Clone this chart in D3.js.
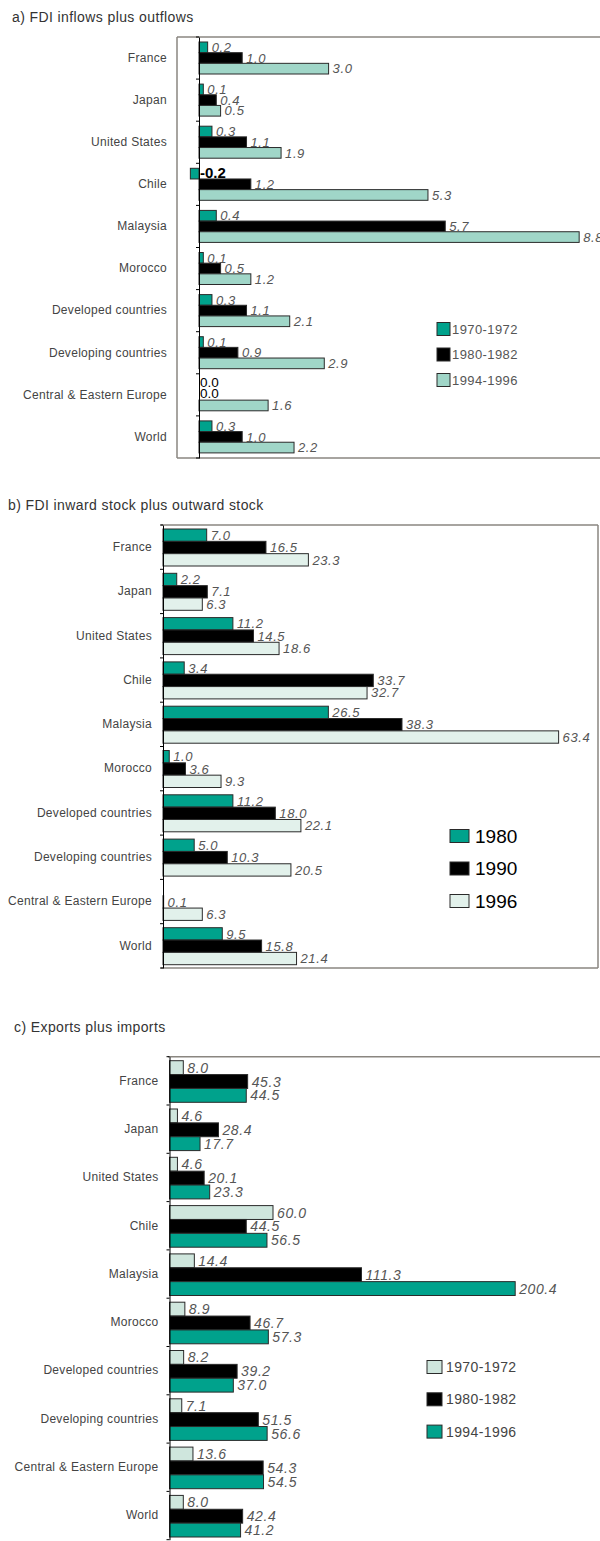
<!DOCTYPE html>
<html>
<head>
<meta charset="utf-8">
<script src="https://cdn.jsdelivr.net/npm/d3@7"></script>
<style>
  body { margin: 0; background: #fff; }
  svg { display: block; }
</style>
</head>
<body>
<div id="okvir"></div>
<script>
// 1. Podaci

const kategorije = [
  "France", "Japan", "United States", "Chile", "Malaysia", "Morocco",
  "Developed countries", "Developing countries", "Central & Eastern Europe", "World",
]

// a) FDI inflows plus outflows
const tokoviSerije = ["1970-1972", "1980-1982", "1994-1996"]
const tokovi7072 = [0.2, 0.1, 0.3, -0.2, 0.4, 0.1, 0.3, 0.1, 0.0, 0.3]
const tokovi8082 = [1.0, 0.4, 1.1, 1.2, 5.7, 0.5, 1.1, 0.9, 0.0, 1.0]
const tokovi9496 = [3.0, 0.5, 1.9, 5.3, 8.8, 1.2, 2.1, 2.9, 1.6, 2.2]

// b) FDI inward stock plus outward stock
const stokSerije = ["1980", "1990", "1996"]
const stok1980 = [7.0, 2.2, 11.2, 3.4, 26.5, 1.0, 11.2, 5.0, null, 9.5]
const stok1990 = [16.5, 7.1, 14.5, 33.7, 38.3, 3.6, 18.0, 10.3, 0.1, 15.8]
const stok1996 = [23.3, 6.3, 18.6, 32.7, 63.4, 9.3, 22.1, 20.5, 6.3, 21.4]

// c) Exports plus imports
const trgovinaSerije = ["1970-1972", "1980-1982", "1994-1996"]
const trgovina7072 = [8.0, 4.6, 4.6, 60.0, 14.4, 8.9, 8.2, 7.1, 13.6, 8.0]
const trgovina8082 = [45.3, 28.4, 20.1, 44.5, 111.3, 46.7, 39.2, 51.5, 54.3, 42.4]
const trgovina9496 = [44.5, 17.7, 23.3, 56.5, 200.4, 57.3, 37.0, 56.6, 54.5, 41.2]

// 2. Povrsina

const font = "'Liberation Sans', Arial, sans-serif"
const okvir = d3.select("#okvir")
  .append("svg")
    .attr("width", 600)
    .attr("height", 1541)
    .style("font-family", font)

const tirkiz = "#00a28c"

// 3. Crtanje jednog panela
function crtajPanel(p) {
  const g = okvir.append("g")

  g.append("text")
      .attr("x", p.naslovX)
      .attr("y", p.naslovY)
      .attr("font-size", 14)
      .attr("letter-spacing", 0.4)
      .attr("fill", "#333")
      .text(p.naslov)

  const y = d3.scaleBand()
    .domain(kategorije)
    .range([p.top, p.bottom])

  const ySerija = d3.scaleBand()
    .domain(p.serije)
    .range(p.unutra)

  const x = d3.scaleLinear()
    .domain([0, 1])
    .range([p.nula, p.nula + p.pxPoJedinici])

  // okvir
  g.selectAll(".okvir-linija")
    .data(p.okvir)
    .join("line")
      .attr("x1", d => d[0])
      .attr("y1", d => d[1])
      .attr("x2", d => d[2])
      .attr("y2", d => d[3])
      .attr("stroke", "#8a8680")
      .attr("stroke-width", 1.5)

  const redovi = kategorije.map((k, i) => ({
    kategorija: k,
    vrijednosti: p.serije.map((s, j) => ({ serija: s, v: p.vrijednosti[j][i] })),
  }))

  const grupe = g.selectAll(".grupa")
    .data(redovi)
    .join("g")
      .attr("class", "grupa")
      .attr("transform", d => `translate(0,${y(d.kategorija)})`)

  grupe.selectAll("rect")
    .data(d => d.vrijednosti.filter(v => v.v !== null && v.v !== 0))
    .join("rect")
      .attr("x", d => x(Math.min(0, d.v)))
      .attr("y", d => ySerija(d.serija))
      .attr("width", d => Math.abs(x(d.v) - x(0)))
      .attr("height", ySerija.bandwidth())
      .attr("fill", d => p.boje[p.serije.indexOf(d.serija)])
      .attr("stroke", "#2a2a2a")
      .attr("stroke-width", 1)

  // oznake vrijednosti; nule i negativne crne, uspravne
  grupe.selectAll("text")
    .data(d => d.vrijednosti.filter(v => v.v !== null))
    .join("text")
      .attr("x", d => d.v > 0 ? x(d.v) + 4 : x(0) + 1)
      .attr("y", d => ySerija(d.serija) + ySerija.bandwidth() / 2 + (d.v > 0 ? 0 : -1.5))
      .attr("dy", "0.36em")
      .attr("font-size", d => d.v > 0 ? p.vrFont : d.v < 0 ? 15 : 13.5)
      .attr("font-style", d => d.v > 0 ? "italic" : "normal")
      .attr("font-weight", d => d.v < 0 ? "bold" : "normal")
      .attr("letter-spacing", d => d.v > 0 ? 0.6 : 0)
      .attr("fill", d => d.v > 0 ? "#555" : "#000")
      .text(d => d.v.toFixed(1))

  // os s kategorijama
  const yOs = d3.axisLeft(y)
    .tickSize(0)
    .tickPadding(p.razmak)

  const os = g.append("g")
      .attr("transform", `translate(${x(0)},0)`)
      .call(yOs)
  os.attr("font-family", font)
  os.select(".domain").attr("stroke", "#000")
  os.selectAll(".tick text")
      .attr("font-size", 12)
      .attr("letter-spacing", 0.3)
      .attr("fill", "#444")

  // crtice na granicama
  const granice = kategorije.map(k => y(k)).concat([p.bottom])
  g.selectAll(".crtica")
    .data(granice)
    .join("line")
      .attr("x1", x(0) - 3)
      .attr("x2", x(0))
      .attr("y1", d => d)
      .attr("y2", d => d)
      .attr("stroke", "#000")

  // legenda
  const l = p.legenda
  const stavke = g.selectAll(".legenda")
    .data(p.serije)
    .join("g")
      .attr("transform", (d, i) => `translate(${l.x},${l.y + i * l.korak})`)
  stavke.append("rect")
      .attr("x", 0)
      .attr("y", -l.h / 2)
      .attr("width", l.w)
      .attr("height", l.h)
      .attr("fill", (d, i) => p.boje[i])
      .attr("stroke", "#2a2a2a")
  stavke.append("text")
      .attr("x", l.w + l.razmak)
      .attr("dy", "0.36em")
      .attr("font-size", l.font)
      .attr("letter-spacing", l.font > 16 ? 0 : 0.4)
      .attr("fill", l.boja)
      .text(d => d)
}

crtajPanel({
  naslov: "a) FDI inflows plus outflows",
  naslovX: 12, naslovY: 22,
  serije: tokoviSerije,
  vrijednosti: [tokovi7072, tokovi8082, tokovi9496],
  boje: [tirkiz, "#000", "#a0d6c8"],
  top: 37, bottom: 458, unutra: [5, 37],
  nula: 199, pxPoJedinici: 43.2,
  razmak: 32, vrFont: 13,
  okvir: [[177, 37, 177, 458], [177, 37, 600, 37], [177, 458, 600, 458]],
  legenda: { x: 437, y: 329, korak: 25.5, w: 13, h: 13, razmak: 2, font: 13, boja: "#555" },
})

crtajPanel({
  naslov: "b) FDI inward stock plus outward stock",
  naslovX: 8, naslovY: 510,
  serije: stokSerije,
  vrijednosti: [stok1980, stok1990, stok1996],
  boje: [tirkiz, "#000", "#e2f1eb"],
  top: 525, bottom: 968, unutra: [4, 41],
  nula: 163, pxPoJedinici: 6.24,
  razmak: 11, vrFont: 13,
  okvir: [[161, 525, 598, 525], [598, 525, 598, 968], [161, 968, 598, 968]],
  legenda: { x: 450, y: 836, korak: 32.5, w: 19, h: 13, razmak: 6, font: 19, boja: "#000" },
})

crtajPanel({
  naslov: "c) Exports plus imports",
  naslovX: 14, naslovY: 1032,
  serije: trgovinaSerije,
  vrijednosti: [trgovina7072, trgovina8082, trgovina9496],
  boje: ["#cfe6dd", "#000", tirkiz],
  top: 1056.7, bottom: 1539.7, unutra: [4, 45.6],
  nula: 169.5, pxPoJedinici: 1.725,
  razmak: 11, vrFont: 14,
  okvir: [[168, 1056.7, 600, 1056.7]],
  legenda: { x: 427, y: 1367, korak: 32.3, w: 15, h: 13, razmak: 4, font: 14, boja: "#444" },
})
</script>
</body>
</html>
